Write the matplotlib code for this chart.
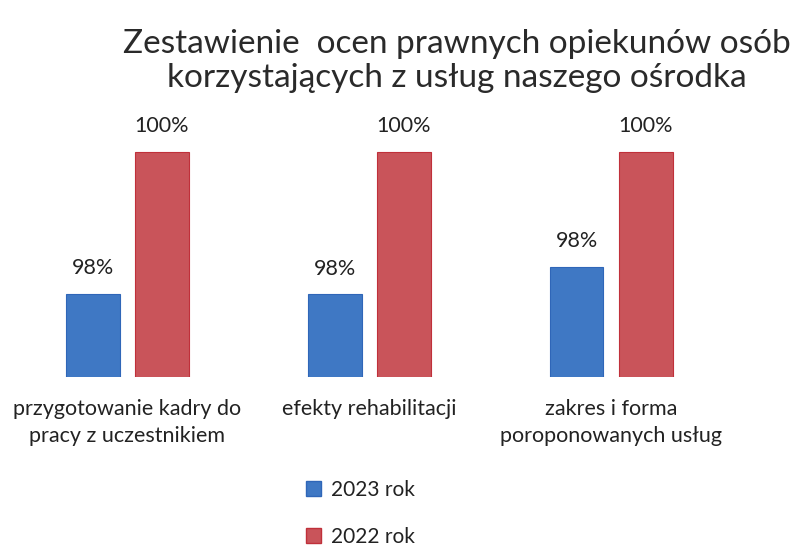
import numpy as np
import matplotlib.pyplot as plt
from matplotlib.patches import Patch

plt.rcParams['font.family'] = ['Lato', 'DejaVu Sans']

categories = ['przygotowanie kadry do\npracy z uczestnikiem',
              'efekty rehabilitacji',
              'zakres i forma\nporoponowanych usług']
series_names = ['2023 rok', '2022 rok']
values_2023 = [98.11, 98.10, 98.47]
values_2022 = [100, 100, 100]
labels_2023 = ['98%', '98%', '98%']
labels_2022 = ['100%', '100%', '100%']

blue = '#3f78c4'
red = '#c9545a'

fig = plt.figure(figsize=(8.01, 5.47), dpi=100)
ax = fig.add_axes([0.008, 0.311, 0.906, 0.49])

x = np.arange(len(categories))
w = 0.222
b1 = ax.bar(x - 0.143, values_2023, w, color=blue, edgecolor='#2f66b8', linewidth=0.8)
b2 = ax.bar(x + 0.143, values_2022, w, color=red, edgecolor='#c0303a', linewidth=0.8)

for bars, labs in [(b1, labels_2023), (b2, labels_2022)]:
    for rect, lab in zip(bars, labs):
        ax.annotate(lab, (rect.get_x() + rect.get_width() / 2, rect.get_height()),
                    xytext=(0, 11), textcoords='offset points',
                    ha='center', va='bottom', fontsize=15.5, color='#222222')

ax.set_ylim(97, 100.57)
ax.set_xlim(-0.5, 2.5)
ax.set_yticks([])
ax.set_xticks(x)
ax.set_xticklabels(categories, fontsize=15.5, color='#222222', linespacing=1.4)
ax.tick_params(axis='x', length=0, pad=16)
for s in ax.spines.values():
    s.set_visible(False)

fig.text(0.57, 0.888, 'Zestawienie  ocen prawnych opiekunów osób\nkorzystających z usług naszego ośrodka',
         ha='center', va='center', fontsize=24, color='#2a2a2a', linespacing=1.15)

handles = [Patch(facecolor=blue, edgecolor='#2f66b8'),
           Patch(facecolor=red, edgecolor='#c0303a')]
fig.legend(handles, series_names, loc='center', bbox_to_anchor=(0.45, 0.062),
           ncol=1, frameon=False, fontsize=15, handlelength=0.7, handleheight=0.7,
           handletextpad=0.5, labelspacing=1.3, labelcolor='#222222')

fig.savefig('out.png', dpi=100)
